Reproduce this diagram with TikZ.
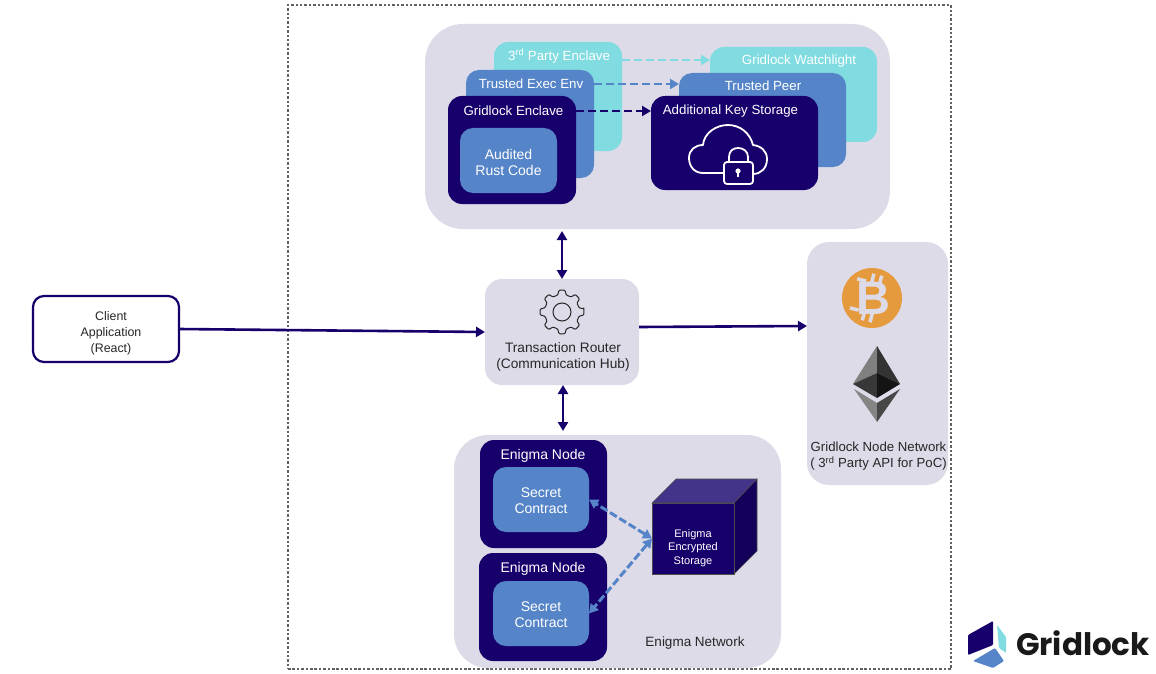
\documentclass[tikz,border=0pt]{standalone}
\usepackage{fontspec}
\setmainfont{Liberation Sans}
\newfontfamily\logofont{Poppins}
\usetikzlibrary{arrows.meta}
\definecolor{gridnavy}{HTML}{17006B}
\definecolor{gridblue}{HTML}{5585C8}
\definecolor{gridteal}{HTML}{80DCE0}
\definecolor{gridpanel}{HTML}{DDDBE8}
\definecolor{gridorange}{HTML}{E69A3E}
\definecolor{gridtext}{HTML}{262626}
\tikzset{
  box/.style={inner sep=0pt,outer sep=0pt,align=center},
  panelbox/.style={box,fill=gridpanel,text=gridtext},
  navybox/.style={box,fill=gridnavy,rounded corners=14pt},
  bluebox/.style={box,fill=gridblue,rounded corners=13pt},
  tealbox/.style={box,fill=gridteal,rounded corners=14pt},
  title/.style={box,text=white,font=\fontsize{13.3}{16}\selectfont},
  inbox/.style={box,text=white,font=\fontsize{14}{16}\selectfont},
  panellabel/.style={box,text=gridtext,font=\fontsize{13.5}{16}\selectfont},
  flowline/.style={line width=2.6pt,gridnavy,-{Triangle[length=9pt,width=10pt]}},
  bothflow/.style={line width=2.6pt,gridnavy,{Triangle[length=9pt,width=10pt]}-{Triangle[length=9pt,width=10pt]}},
  dashflow/.style={line width=2.6pt,dash pattern=on 8pt off 4pt,-{Triangle[length=9pt,width=10pt]}},
  storeflow/.style={line width=3pt,gridblue,dash pattern=on 8pt off 3pt,{Triangle[length=9pt,width=10pt]}-{Triangle[length=9pt,width=10pt]}},
  iconline/.style={white,line width=1.8pt,line join=round},
}
\begin{document}
\begin{tikzpicture}[x=1pt,y=-1pt]
\useasboundingbox (0,0) rectangle (1156,674);

% Rahmen
\node[box,draw=black!62,line width=2.5pt,dash pattern=on 2.5pt off 1.9pt,minimum width=663pt,minimum height=664pt] (frame) at (619.5,337) {};

% Client
\node[box,fill=white,draw=gridnavy,line width=2.2pt,rounded corners=11pt,minimum width=146pt,minimum height=66pt] (client) at (106,329) {};
\node[box,font=\fontsize{12.4}{15.8}\selectfont,text=gridtext] (clienttext) at (111,333) {Client\\Application\\(React)};

% Enclaves
\node[panelbox,rounded corners=38pt,minimum width=465pt,minimum height=205pt] (keypanel) at (657.5,126.5) {};
\node[tealbox,minimum width=128pt,minimum height=109pt] (thirdenclave) at (558,96.5) {};
\node[tealbox,minimum width=167pt,minimum height=95pt] (watchlight) at (793.5,94.5) {};
\node[bluebox,minimum width=128pt,minimum height=108pt] (execenv) at (530,124) {};
\node[bluebox,minimum width=167pt,minimum height=94pt] (trustedpeer) at (762.5,120) {};
\node[navybox,minimum width=128pt,minimum height=108pt] (enclave) at (512,150) {};
\node[navybox,minimum width=167pt,minimum height=94pt] (keystore) at (734.5,143) {};
\node[bluebox,minimum width=97pt,minimum height=65pt] (rustcode) at (508.5,160.5) {};
\node[inbox] (rusttext) at (508.5,162) {Audited\\Rust Code};
\node[title] (thirdtitle) at (559,56) {3\textsuperscript{rd} Party Enclave};
\node[title] (exectitle) at (531,84) {Trusted Exec Env};
\node[title] (enclavetitle) at (513.5,110.5) {Gridlock Enclave};
\node[title] (watchtitle) at (799,61.5) {Gridlock Watchlight};
\node[title] (peertitle) at (763,86) {Trusted Peer};
\node[title] (keytitle) at (730.5,111.5) {Additional Key Storage};

% Wolke mit Schloss
\draw[iconline] (724,173) -- (703,173) .. controls (694,173) and (689,166) .. (689,158)
  .. controls (689,150) and (695,145) .. (703,145) .. controls (704,133) and (716,125) .. (728,125)
  .. controls (740,125) and (750,133) .. (753,145) .. controls (761,146) and (767,151) .. (767,159)
  .. controls (767,168) and (761,174) .. (753,174);
\draw[iconline] (729,162) -- (729,157) .. controls (729,151) and (733,148) .. (738,148)
  .. controls (743,148) and (748,151) .. (748,157) -- (748,162);
\draw[iconline,fill=gridnavy,rounded corners=3pt] (724,162) rectangle (753,184);
\fill[white] (738,171) circle (2.6);
\draw[white,line width=1.8pt] (738,171) -- (738,177);

% Router
\node[panelbox,rounded corners=17pt,minimum width=154pt,minimum height=106pt] (router) at (562,332) {};
\node[panellabel,font=\fontsize{13.7}{16}\selectfont] (routertext) at (563,357) {Transaction Router\\(Communication Hub)};
\draw[gridtext,line width=1pt,line join=round,rounded corners=1pt,shift={(562,312)}] (-8:22)
  \foreach \a in {0,45,...,315} {
    -- (\a-8:22) -- (\a+8:22) -- (\a+14:17.5) -- (\a+31:17.5)
  } -- cycle;
\draw[gridtext,line width=1pt] (562,312) circle (9);

% Netzwerk
\node[panelbox,rounded corners=22pt,minimum width=141pt,minimum height=243pt] (network) at (877.5,363.5) {};
\node[circle,fill=gridorange,inner sep=0pt,minimum size=60pt] (bitcoin) at (872,298) {};
\begin{scope}[shift={(872,298)},rotate=-14]
\node[box,text=gridpanel,font=\fontsize{47}{47}\selectfont\bfseries] (bitcoinb) at (1,0) {B};
\foreach \x in {-4,4} {
  \draw[gridpanel,line width=3.5pt] (\x,-24) -- (\x,-14);
  \draw[gridpanel,line width=3.5pt] (\x,14) -- (\x,24);
}
\draw[gridpanel,line width=3.5pt] (-19,-15) -- (-10,-15);
\draw[gridpanel,line width=3.5pt] (-19,15) -- (-10,15);
\end{scope}
\fill[black!50] (877,346) -- (853,384) -- (877,373) -- cycle;
\fill[black!80] (877,346) -- (900,384) -- (877,373) -- cycle;
\fill[black!78] (853,384) -- (877,373) -- (877,398) -- cycle;
\fill[black!92] (900,384) -- (877,373) -- (877,398) -- cycle;
\fill[black!48] (854,389) -- (877,403) -- (877,422) -- cycle;
\fill[black!72] (900,389) -- (877,403) -- (877,422) -- cycle;
\node[panellabel,font=\fontsize{13.2}{16}\selectfont] (networktext) at (878.5,456.5) {Gridlock Node Network\\( 3\textsuperscript{rd} Party API for PoC)};

% Enigma
\node[panelbox,rounded corners=34pt,minimum width=327pt,minimum height=233pt] (enigmapanel) at (617.5,551.5) {};
\node[navybox,minimum width=127pt,minimum height=108pt] (enigmaone) at (543.5,494) {};
\node[navybox,minimum width=128pt,minimum height=108pt] (enigmatwo) at (543,607) {};
\node[bluebox,minimum width=96pt,minimum height=65pt] (contractone) at (541,499.5) {};
\node[bluebox,minimum width=96pt,minimum height=65pt] (contracttwo) at (541,613.5) {};
\node[inbox] (contracttextone) at (541,500.5) {Secret\\Contract};
\node[inbox] (contracttexttwo) at (541,614.5) {Secret\\Contract};
\node[inbox] (enigmatitleone) at (543,456) {Enigma Node};
\node[inbox] (enigmatitletwo) at (543,569) {Enigma Node};
\node[panellabel] (enigmatext) at (695,643) {Enigma Network};

% Wuerfel
\fill[gridnavy!80!white,draw=black!70,line width=.6pt] (652,503) -- (676,479) -- (757,479) -- (734,503) -- cycle;
\fill[gridnavy!85!black,draw=black!70,line width=.6pt] (734,503) -- (757,479) -- (757,551) -- (734,574) -- cycle;
\node[box,fill=gridnavy,draw=black!70,line width=.6pt,minimum width=82pt,minimum height=71pt] (storage) at (693,538.5) {};
\node[box,text=white,font=\fontsize{11}{13.5}\selectfont] (storagetext) at (693,548) {Enigma\\Encrypted\\Storage};

% Pfeile
\draw[flowline] (client.east) -- (router.west);
\draw[flowline] (router.east |- 0,327) -- (network.west |- 0,326);
\draw[bothflow,shorten >=2pt] (router.north) -- (router.north |- keypanel.south);
\draw[bothflow,shorten >=4pt] ([xshift=1pt]router.south) -- ([xshift=1pt]router.south |- enigmapanel.north);
\draw[dashflow,gridteal] (thirdenclave.east |- 0,60) -- (watchlight.west |- 0,60);
\draw[dashflow,gridblue] (execenv.east |- 0,84) -- (trustedpeer.west |- 0,84);
\draw[dashflow,gridnavy] (enclave.east |- 0,111) -- (keystore.west |- 0,111);
\draw[storeflow] (storage.west) -- (contractone.east);
\draw[storeflow] (storage.west) -- (contracttwo.east);

% Logo
\fill[gridnavy,rounded corners=1pt] (968,635) -- (993,621) -- (993,645) -- (968,655) -- cycle;
\fill[gridteal,rounded corners=1pt] (997,625) -- (1006,637) -- (1006,653) -- (999,648) -- cycle;
\fill[gridblue,rounded corners=1pt] (973,661) -- (995,648) -- (1004,661) -- (993,668) -- cycle;
\node[box,anchor=base west,text=black!90,font=\logofont\fontsize{31}{31}\selectfont\bfseries] (logotext) at (1016,655) {Gridlock};
\end{tikzpicture}
\end{document}
